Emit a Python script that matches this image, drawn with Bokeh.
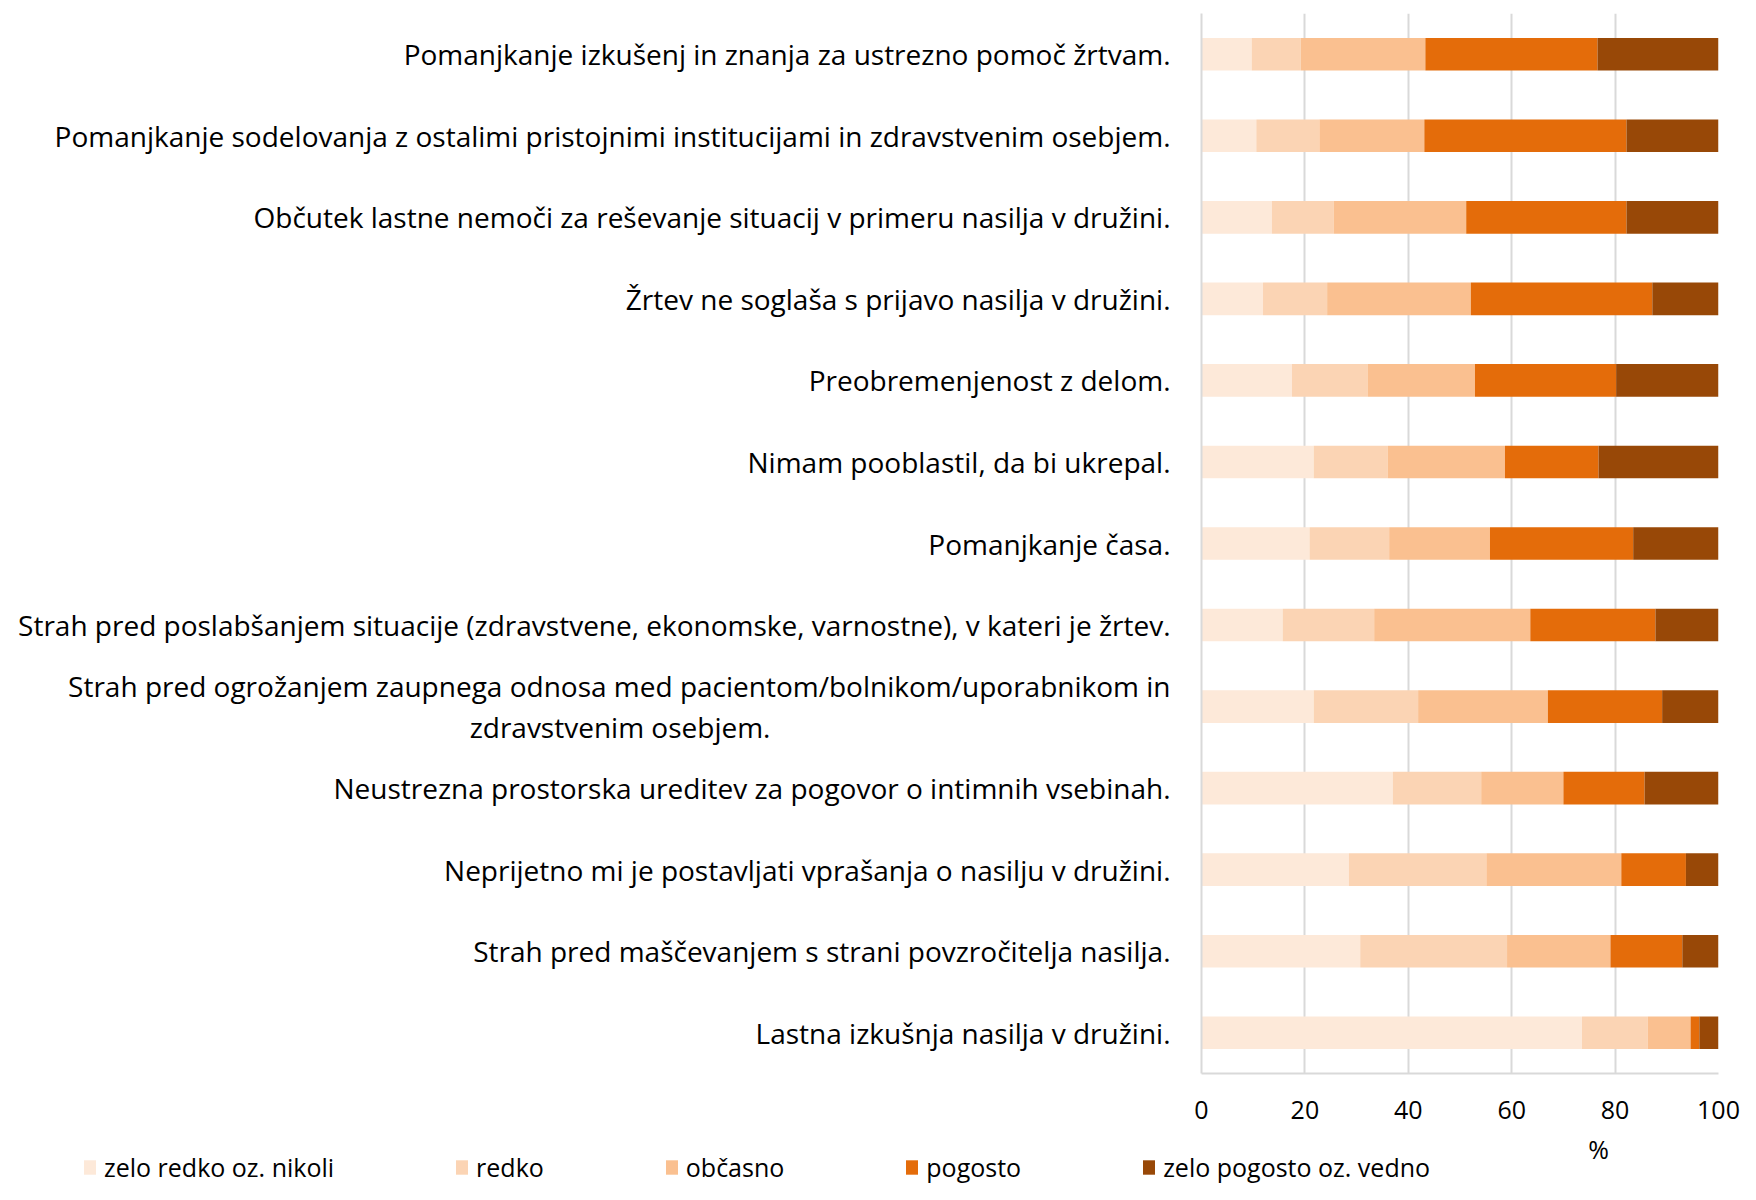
from bokeh.plotting import figure
from bokeh.layouts import column
from bokeh.models import Legend, LegendItem, Label, FixedTicker, ColumnDataSource, Range1d
from bokeh.embed import file_html
from bokeh.resources import INLINE

NB = "\u00a0"

# Categories, top to bottom as shown
categories = [
    "Pomanjkanje izkušenj in znanja za ustrezno pomoč žrtvam.",
    "Pomanjkanje sodelovanja z ostalimi pristojnimi institucijami in zdravstvenim osebjem.",
    "Občutek lastne nemoči za reševanje situacij v primeru nasilja v družini.",
    "Žrtev ne soglaša s prijavo nasilja v družini.",
    "Preobremenjenost z delom.",
    "Nimam pooblastil, da bi ukrepal.",
    "Pomanjkanje časa.",
    "Strah pred poslabšanjem situacije (zdravstvene, ekonomske, varnostne), v kateri je žrtev.",
    "Strah pred ogrožanjem zaupnega odnosa med pacientom/bolnikom/uporabnikom in\nzdravstvenim osebjem." + NB * 55,
    "Neustrezna prostorska ureditev za pogovor o intimnih vsebinah.",
    "Neprijetno mi je postavljati vprašanja o nasilju v družini.",
    "Strah pred maščevanjem s strani povzročitelja nasilja.",
    "Lastna izkušnja nasilja v družini.",
]

series_names = ["zelo redko oz. nikoli", "redko", "občasno", "pogosto", "zelo pogosto oz. vedno"]

zelo_redko   = [9.7, 10.6, 13.6, 11.9, 17.5, 21.7, 20.9, 15.7, 21.7, 37.0, 28.5, 30.7, 73.6]
redko        = [9.5, 12.2, 12.0, 12.4, 14.7, 14.3, 15.4, 17.7, 20.2, 17.1, 26.6, 28.4, 12.7]
obcasno      = [24.1, 20.3, 25.6, 27.8, 20.7, 22.7, 19.5, 30.2, 25.1, 15.9, 26.1, 20.0, 8.3]
pogosto      = [33.3, 39.1, 31.0, 35.1, 27.3, 18.1, 27.7, 24.2, 22.1, 15.7, 12.5, 13.9, 1.7]
zelo_pogosto = [23.4, 17.8, 17.8, 12.8, 19.8, 23.2, 16.5, 12.2, 10.9, 14.3, 6.3, 7.0, 3.7]

x_ticks = [0, 20, 40, 60, 80, 100]
x_title = "%"

colors = ["#FDE9D9", "#FBD4B4", "#FAC090", "#E46C0A", "#984807"]
FONT = "Open Sans"

n = len(categories)
ypos = [n - 1 - i for i in range(n)]
keys = ["s0", "s1", "s2", "s3", "s4"]
source = ColumnDataSource(dict(y=ypos, s0=zelo_redko, s1=redko, s2=obcasno, s3=pogosto, s4=zelo_pogosto))

W = 1740
H_MAIN = 1130
H_LEG = 54

p = figure(width=W, height=H_MAIN, output_backend="svg", toolbar_location=None,
           x_range=Range1d(0, 100), y_range=Range1d(-0.5, n - 0.5))
p.frame_align = False
p.min_border_left = 1201
p.min_border_right = 22
p.min_border_top = 13
p.min_border_bottom = 57
p.outline_line_color = None
p.background_fill_color = "white"
p.border_fill_color = "white"

renderers = p.hbar_stack(keys, y="y", height=0.4, color=colors, source=source, line_width=0)

# axes
p.xaxis.ticker = FixedTicker(ticks=x_ticks)
p.xaxis.major_tick_line_color = None
p.xaxis.minor_tick_line_color = None
p.xaxis.axis_line_color = "#D9D9D9"
p.xaxis.axis_line_width = 2
p.xaxis.major_label_text_font = FONT
p.xaxis.major_label_text_font_size = "25px"
p.xaxis.major_label_text_color = "#000000"
p.xaxis.major_label_standoff = 21

p.yaxis.ticker = FixedTicker(ticks=ypos)
p.yaxis.major_label_overrides = {y: c for y, c in zip(ypos, categories)}
p.yaxis.major_tick_line_color = None
p.yaxis.minor_tick_line_color = None
p.yaxis.axis_line_color = "#D9D9D9"
p.yaxis.axis_line_width = 2
p.yaxis.major_label_text_font = FONT
p.yaxis.major_label_text_font_size = "28px"
p.yaxis.major_label_text_line_height = 1.06
p.yaxis.major_label_text_color = "#000000"
p.yaxis.major_label_standoff = 25

p.xgrid.grid_line_color = "#D9D9D9"
p.xgrid.grid_line_width = 2
p.ygrid.grid_line_color = None

# legend strip below the chart
leg = figure(width=W, height=H_LEG, output_backend="svg", toolbar_location=None,
             x_range=Range1d(0, W), y_range=Range1d(0, H_LEG),
             x_axis_type=None, y_axis_type=None)
leg.frame_align = False
leg.min_border = 0
leg.min_border_left = 0
leg.min_border_right = 0
leg.min_border_top = 0
leg.min_border_bottom = 0
leg.outline_line_color = None
leg.grid.visible = False
leg.border_fill_color = "white"

# zero-height copies of the same stacked series, used only to supply legend swatches
leg_renderers = leg.hbar_stack(keys, y="y", height=0, color=colors, source=source,
                               line_color=None, line_width=0)

# axis title "%" (placed at the same spot as in the original, under the 75% mark)
leg.add_layout(Label(x=1598, y=H_LEG - 18, text=x_title, text_font=FONT, text_font_size="25px",
                     text_align="center", text_baseline="middle", text_color="#000000"))

legend = Legend(items=[LegendItem(label=nm, renderers=[r]) for nm, r in zip(series_names, leg_renderers)],
                orientation="horizontal", location=(82, 0),
                glyph_width=15, glyph_height=18, label_standoff=7, spacing=120,
                padding=0, margin=0, border_line_color=None, background_fill_alpha=0,
                label_text_font=FONT, label_text_font_size="25px", label_text_color="#000000")
leg.add_layout(legend, "center")

layout = column(p, leg, spacing=0)
open("out.html", "w").write(file_html(layout, INLINE))
